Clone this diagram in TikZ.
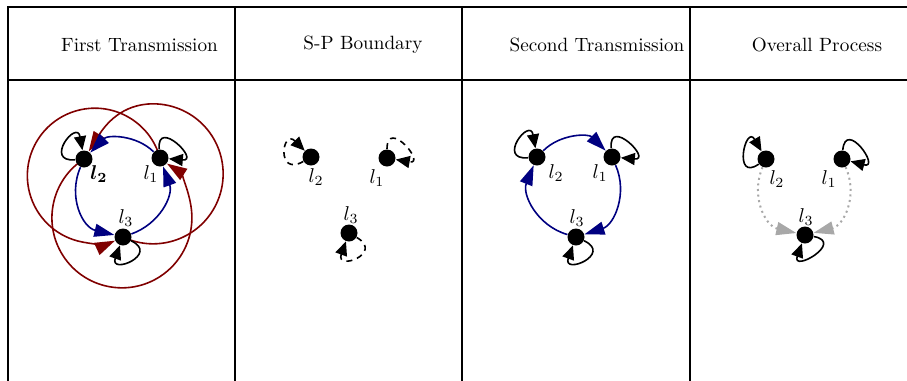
\documentclass[tikz,border=0pt]{standalone}
\usetikzlibrary{arrows.meta,backgrounds}
\definecolor{myred}{HTML}{800000}
\definecolor{myblue}{HTML}{000080}
\definecolor{mygray}{HTML}{A8A8A8}
\begin{document}
\begin{tikzpicture}[x=0.5pt,y=0.5pt,
  vert/.style={circle,fill=black,inner sep=0pt,minimum size=8.5pt},
  lab/.style={inner sep=0pt},
  head/.style={font=\fontsize{9.6}{11}\selectfont,inner sep=0pt},
  grid/.style={line width=1pt},
  tip/.style={-{Triangle[length=10pt,width=6.5pt]}},
  looptip/.style={-{Triangle[length=7pt,width=6pt]}},
  redarc/.style={tip,draw=myred,line width=0.8pt},
  bluearc/.style={tip,draw=myblue,line width=0.8pt},
  selfloop/.style={looptip,draw=black,line width=0.8pt,looseness=1,min distance=16pt},
  dashloop/.style={selfloop,dash pattern=on 3pt off 2.5pt},
  grayarc/.style={tip,draw=mygray,line width=1pt,dash pattern=on 1pt off 1.8pt}]
\useasboundingbox (0,0) rectangle (907,-381);
% table
\draw[grid] (907,-6.5) -- (8,-6.5) -- (8,-381);
\draw[grid] (8,-79.5) -- (907,-79.5);
\draw[grid] (235,-6.5) -- (235,-381);
\draw[grid] (462,-6.5) -- (462,-381);
\draw[grid] (690,-6.5) -- (690,-381);
\node[head] (h1) at (139.5,-45) {First Transmission};
\node[head] (h2) at (363,-45) {S-P Boundary};
\node[head] (h3) at (597,-45) {Second Transmission};
\node[head] (h4) at (817,-45) {Overall Process};
% panel 1
\node[vert] (a2) at (84,-159) {};
\node[vert] (a1) at (160,-158) {};
\node[vert] (a3) at (123,-237) {};
\node[lab,font=\boldmath] (a2l) at (99,-174) {$l_2$};
\node[lab] (a1l) at (151,-174) {$l_1$};
\node[lab] (a3l) at (126,-218) {$l_3$};
% panel 2
\node[vert] (b2) at (311,-157) {};
\node[vert] (b1) at (387,-158) {};
\node[vert] (b3) at (349,-233) {};
\node[lab] (b2l) at (316,-177) {$l_2$};
\node[lab] (b1l) at (377,-178) {$l_1$};
\node[lab] (b3l) at (351,-215) {$l_3$};
% panel 3
\node[vert] (c2) at (537,-157) {};
\node[vert] (c1) at (612,-157) {};
\node[vert] (c3) at (576,-237) {};
\node[lab] (c2l) at (556,-173) {$l_2$};
\node[lab] (c1l) at (600,-173) {$l_1$};
\node[lab] (c3l) at (577,-218) {$l_3$};
% panel 4
\node[vert] (d2) at (766,-159) {};
\node[vert] (d1) at (842,-159) {};
\node[vert] (d3) at (805,-235) {};
\node[lab] (d2l) at (777,-179) {$l_2$};
\node[lab] (d1l) at (829,-179) {$l_1$};
\node[lab] (d3l) at (806,-217) {$l_3$};
\begin{scope}[on background layer]
% panel 1 red
\draw[redarc,shorten >=4.25pt] (a1.center) arc[start angle=15.2,end angle=294.4,radius=33.75pt];
\draw[redarc] (a3.center) arc[start angle=244.5,end angle=450,radius=35pt]
  to[out=180,in=58] (a2);
\draw[redarc,shorten >=4.25pt] (a2.center) arc[start angle=122.8,end angle=417.2,radius=35pt];
% panel 1 blue
\draw[bluearc] (a1) to[bend right=45] (a2);
\draw[bluearc] (a2) to[bend right=50,looseness=1.1] (a3);
\draw[bluearc] (a3) to[bend right=45,looseness=1.05] (a1);
% panel 1 loops
\draw[selfloop] (a2) to[out=185,in=100] (a2);
\draw[selfloop] (a1) to[out=95,in=-5] (a1);
\draw[selfloop] (a3) to[out=-25,in=250] (a3);
% panel 2 loops
\draw[dashloop] (b2) to[out=210,in=135] (b2);
\draw[dashloop] (b1) to[out=90,in=-10] (b1);
\draw[dashloop] (b3) to[out=-30,in=250] (b3);
% panel 3 blue
\draw[bluearc] (c2) to[bend left=45] (c1);
\draw[bluearc] (c1) to[bend left=48,looseness=1.05] (c3);
\draw[bluearc] (c3) to[bend left=48,looseness=1.05] (c2);
% panel 3 loops
\draw[selfloop] (c2) to[out=185,in=100] (c2);
\draw[selfloop] (c1) to[out=95,in=-5] (c1);
\draw[selfloop] (c3) to[out=-25,in=250] (c3);
% panel 4
\draw[grayarc] (d2) to[bend right=50,looseness=1.1] (d3);
\draw[grayarc] (d1) to[bend left=50,looseness=1.1] (d3);
\draw[selfloop] (d2) to[out=215,in=120] (d2);
\draw[selfloop] (d1) to[out=85,in=-15] (d1);
\draw[selfloop] (d3) to[out=-10,in=250] (d3);
\end{scope}
\end{tikzpicture}
\end{document}
